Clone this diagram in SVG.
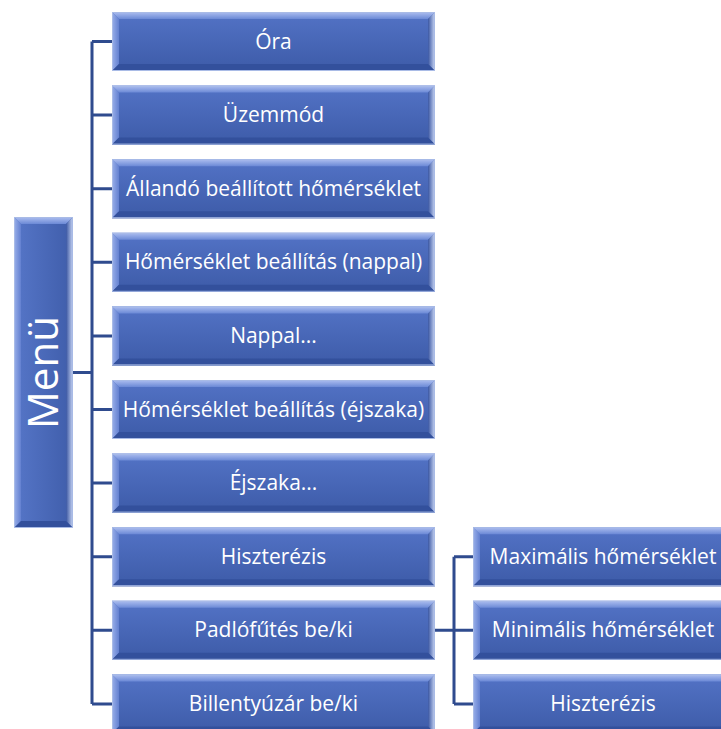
<svg xmlns="http://www.w3.org/2000/svg" xmlns:xlink="http://www.w3.org/1999/xlink" width="721" height="729" viewBox="0 0 721 729">
<defs>
<linearGradient id="body" x1="0" y1="0" x2="0" y2="1">
<stop offset="0" stop-color="#5373c6"/>
<stop offset="1" stop-color="#3d5ba8"/>
</linearGradient>
<linearGradient id="bodyV" x1="0" y1="0" x2="1" y2="0">
<stop offset="0" stop-color="#5676c8"/>
<stop offset="1" stop-color="#3f5daa"/>
</linearGradient>
<linearGradient id="topB" x1="0" y1="0" x2="0" y2="1">
<stop offset="0" stop-color="#aebff0"/>
<stop offset="1" stop-color="#6b89d6"/>
</linearGradient>
<linearGradient id="leftB" x1="0" y1="0" x2="1" y2="0">
<stop offset="0" stop-color="#9ab0ea"/>
<stop offset="1" stop-color="#6380d0"/>
</linearGradient>
<linearGradient id="rightB" x1="0" y1="0" x2="1" y2="0">
<stop offset="0" stop-color="#3b57a3"/>
<stop offset="1" stop-color="#c9d6f4"/>
</linearGradient>
<style>
.lbl{font-family:"Open Sans","Liberation Sans",sans-serif;font-size:21px;fill:#ffffff;text-anchor:middle}
.big{font-family:"Open Sans","Liberation Sans",sans-serif;font-size:42px;fill:#ffffff;text-anchor:middle}
.conn{fill:none;stroke:#2f4b8e;stroke-width:3}
.edge{fill:none;stroke:#a9bbe6;stroke-width:1}
.bot{fill:#33509c}
</style>
<g id="boxM">
<rect width="323" height="59" fill="url(#body)"/>
<polygon points="0,0 323,0 316,7 7,7" fill="url(#topB)"/>
<polygon points="0,0 7,7 7,52 0,59" fill="url(#leftB)"/>
<polygon points="323,0 323,59 316,52 316,7" fill="url(#rightB)"/>
<polygon points="0,59 7,52 316,52 323,59" class="bot"/>
<rect x="0.5" y="0.5" width="322" height="58" class="edge"/>
</g>
<g id="boxR">
<rect width="262" height="59" fill="url(#body)"/>
<polygon points="0,0 262,0 255,7 7,7" fill="url(#topB)"/>
<polygon points="0,0 7,7 7,52 0,59" fill="url(#leftB)"/>
<polygon points="0,59 7,52 255,52 262,59" class="bot"/>
<rect x="0.5" y="0.5" width="261" height="58" class="edge"/>
</g>
</defs>
<rect width="721" height="729" fill="#ffffff"/>
<g id="connectors">
<path class="conn" d="M73,372.5 H92 M92,41.5 V704 M92,41.5 H112 M92,115.1 H112 M92,188.7 H112 M92,262.3 H112 M92,335.9 H112 M92,409.5 H112 M92,483.1 H112 M92,556.7 H112 M92,630.3 H112 M92,703.9 H112"/>
<path class="conn" d="M435,630.3 H454 M454,556.7 V703.9 M454,556.7 H473 M454,630.3 H473 M454,703.9 H473"/>
</g>
<g id="menu">
<rect x="14" y="217" width="59" height="311" fill="url(#bodyV)"/>
<polygon points="14,217 73,217 66,224 21,224" fill="url(#topB)"/>
<polygon points="14,217 21,224 21,521 14,528" fill="url(#leftB)"/>
<polygon points="73,217 73,528 66,521 66,224" fill="url(#rightB)"/>
<polygon points="14,528 21,521 66,521 73,528" class="bot"/>
<rect x="14.5" y="217.5" width="58" height="310" class="edge"/>
<text class="big" transform="translate(58,372.5) rotate(-90)">Menü</text>
</g>
<g id="ora"><use xlink:href="#boxM" x="112" y="12"/><text class="lbl" x="273.5" y="48.5">Óra</text></g>
<g id="uzemmod"><use xlink:href="#boxM" x="112" y="85.6"/><text class="lbl" x="273.5" y="122.1">Üzemmód</text></g>
<g id="allando"><use xlink:href="#boxM" x="112" y="159.2"/><text class="lbl" x="273.5" y="195.7">Állandó beállított hőmérséklet</text></g>
<g id="hom-nappal"><use xlink:href="#boxM" x="112" y="232.8"/><text class="lbl" x="273.5" y="269.3">Hőmérséklet beállítás (nappal)</text></g>
<g id="nappal"><use xlink:href="#boxM" x="112" y="306.4"/><text class="lbl" x="273.5" y="342.9">Nappal...</text></g>
<g id="hom-ejszaka"><use xlink:href="#boxM" x="112" y="380"/><text class="lbl" x="273.5" y="416.5">Hőmérséklet beállítás (éjszaka)</text></g>
<g id="ejszaka"><use xlink:href="#boxM" x="112" y="453.6"/><text class="lbl" x="273.5" y="490.1">Éjszaka...</text></g>
<g id="hiszterezis"><use xlink:href="#boxM" x="112" y="527.2"/><text class="lbl" x="273.5" y="563.7">Hiszterézis</text></g>
<g id="padlofutes"><use xlink:href="#boxM" x="112" y="600.8"/><text class="lbl" x="273.5" y="637.3">Padlófűtés be/ki</text></g>
<g id="billentyuzar"><use xlink:href="#boxM" x="112" y="674.4"/><text class="lbl" x="273.5" y="710.9">Billentyúzár be/ki</text></g>
<g id="max-hom"><use xlink:href="#boxR" x="473" y="527.2"/><text class="lbl" x="603" y="563.7">Maximális hőmérséklet</text></g>
<g id="min-hom"><use xlink:href="#boxR" x="473" y="600.8"/><text class="lbl" x="603" y="637.3">Minimális hőmérséklet</text></g>
<g id="padlo-hiszterezis"><use xlink:href="#boxR" x="473" y="674.4"/><text class="lbl" x="603" y="710.9">Hiszterézis</text></g>
</svg>
